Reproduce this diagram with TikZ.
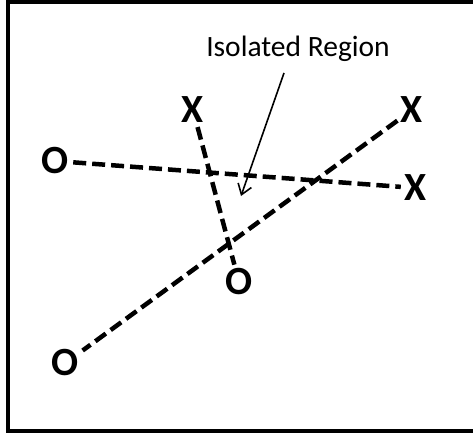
\documentclass[tikz,border=0pt]{standalone}
\usepackage{fontspec}
\setmainfont{Carlito}
\usetikzlibrary{arrows.meta}
\begin{document}
\begin{tikzpicture}[x=1pt,y=-1pt,
  lbl/.style={font=\fontsize{40}{40}\selectfont\bfseries, inner sep=1pt},
  dline/.style={line width=4.5pt, dash pattern=on 13pt off 6pt, shorten <=3pt, shorten >=3pt},
  note/.style={font=\fontsize{29.5}{29.5}\selectfont, inner sep=0pt, anchor=base},
  ptr/.style={line width=1.6pt, -{Straight Barb[length=10pt,width=14pt,line width=1.6pt]}}
]
\useasboundingbox (0,0) rectangle (473,433);
\draw[line width=4pt] (8,2) rectangle (480,430.5);

\node[lbl] (o1) at (55.5,161) {O};
\node[lbl] (x1) at (416,188) {X};
\node[lbl] (x2) at (193,110) {X};
\node[lbl] (o2) at (239,282) {O};
\node[lbl] (x3) at (412,110) {X};
\node[lbl] (o3) at (65.5,363) {O};

\draw[dline] (o1) -- (x1);
\draw[dline] (x2) -- (o2);
\draw[dline] (x3) -- (o3);

\node[note] (txt) at (298,57) {Isolated Region};
\coordinate (a0) at (284,73);
\coordinate (tip) at (241,196);
\draw[ptr] (a0) -- (tip);
\end{tikzpicture}
\end{document}
